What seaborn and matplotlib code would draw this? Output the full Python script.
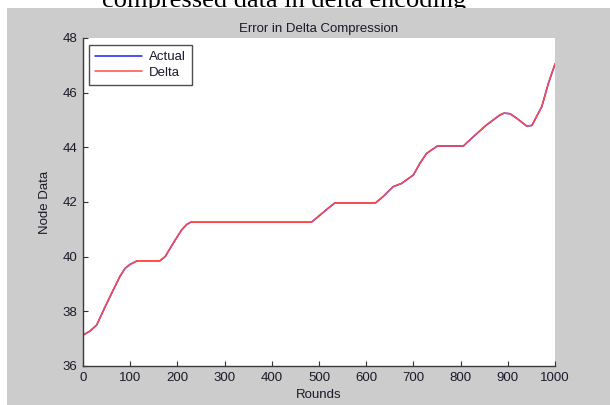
import matplotlib
matplotlib.use("Agg")
import matplotlib.pyplot as plt
from matplotlib.patches import Rectangle
import seaborn as sns
import pandas as pd

# ---- data ----
rounds = [0, 15, 29, 47, 64, 78, 89, 100, 107, 115, 163, 174, 191, 209, 220, 228,
          484, 502, 520, 534, 620, 636, 657, 675, 700, 714, 728, 751, 806, 827,
          855, 883, 892, 905, 919, 940, 951, 972, 986, 1000]
actual = [37.13, 37.28, 37.50, 38.17, 38.78, 39.27, 39.57, 39.72, 39.78, 39.85,
          39.85, 40.00, 40.49, 40.98, 41.18, 41.26, 41.26, 41.52, 41.78, 41.97,
          41.97, 42.20, 42.56, 42.68, 42.99, 43.42, 43.78, 44.05, 44.05, 44.39,
          44.82, 45.18, 45.25, 45.23, 45.06, 44.78, 44.80, 45.49, 46.34, 47.05]
delta = [37.13, 37.28, 37.50, 38.17, 38.78, 39.27, 39.57, 39.72, 39.78, 39.85,
         39.85, 40.00, 40.49, 40.98, 41.18, 41.26, 41.26, 41.52, 41.78, 41.97,
         41.97, 42.20, 42.56, 42.68, 42.99, 43.42, 43.78, 44.05, 44.05, 44.39,
         44.82, 45.18, 45.25, 45.23, 45.06, 44.78, 44.80, 45.49, 46.34, 47.05]
x_ticks = [0, 100, 200, 300, 400, 500, 600, 700, 800, 900, 1000]
y_ticks = [36, 38, 40, 42, 44, 46, 48]
series_names = ["Actual", "Delta"]
series_colors = ["#2020ff", "#ff4a4a"]

sns.set_style("white")
plt.rcParams["font.family"] = ["Liberation Sans", "DejaVu Sans"]

W, H = 610, 405
FS = 9.5
TXT = "#1a1a2a"
fig = plt.figure(figsize=(W / 100, H / 100), dpi=100, facecolor="white")

# cut-off document caption above the screenshot (as in the reference)
fig.text(284 / W, 1 - 7 / H, "compressed data in delta encoding",
         ha="center", va="baseline", fontsize=19, family="Liberation Serif",
         color="black", zorder=1)
# grey MATLAB figure background
fig.patches.append(Rectangle((7 / W, 0), 1 - 7 / W, 1 - 8 / H,
                             transform=fig.transFigure, facecolor="#cccccc",
                             edgecolor="none", zorder=2))

left, right, top, bottom = 83, 555, 38, 366
ax = fig.add_axes([left / W, 1 - bottom / H, (right - left) / W, (bottom - top) / H])
ax.set_zorder(3)
ax.set_facecolor("white")

df = pd.DataFrame({"Rounds": rounds + rounds,
                   "Node Data": actual + delta,
                   "series": [series_names[0]] * len(rounds) + [series_names[1]] * len(rounds)})
sns.lineplot(data=df, x="Rounds", y="Node Data", hue="series",
             palette=dict(zip(series_names, series_colors)), linewidth=1.1,
             ax=ax, legend=True)

ax.set_xlim(0, 1000)
ax.set_ylim(36, 48)
ax.set_xticks(x_ticks)
ax.set_yticks(y_ticks)
ax.tick_params(direction="in", length=3.5, width=0.8, colors="#333333",
               labelcolor=TXT, labelsize=FS, bottom=True, left=True)
ax.tick_params(axis="x", pad=4)
ax.tick_params(axis="y", pad=4)
for s in ["top", "right"]:
    ax.spines[s].set_visible(False)
for s in ["left", "bottom"]:
    ax.spines[s].set_color("#3a3a3a")
    ax.spines[s].set_linewidth(1.0)

ax.set_xlabel("Rounds", fontsize=FS, color=TXT)
ax.set_ylabel("Node Data", fontsize=FS, color=TXT)
ax.xaxis.set_label_coords(0.5, -(395 - bottom) / (bottom - top))
ax.xaxis.label.set_va("center")
ax.yaxis.set_label_coords((45 - left) / (right - left), 0.5)
ax.yaxis.label.set_va("center")

ax.text(0.5, 1 + 9 / (bottom - top), "Error in Delta Compression",
        transform=ax.transAxes, ha="center", va="center", fontsize=FS,
        color=TXT)

leg = ax.legend(loc="upper left", bbox_to_anchor=((89 - left) / (right - left), (bottom - 45) / (bottom - top)),
                borderaxespad=0, fontsize=FS, frameon=True, fancybox=False,
                handlelength=3.6, handletextpad=0.5, labelspacing=0.25,
                borderpad=0.45, title=None)
leg.get_frame().set_edgecolor("#222222")
leg.get_frame().set_linewidth(1.0)
for t in leg.get_texts():
    t.set_color(TXT)

fig.savefig("out.png", dpi=100, facecolor="white")
